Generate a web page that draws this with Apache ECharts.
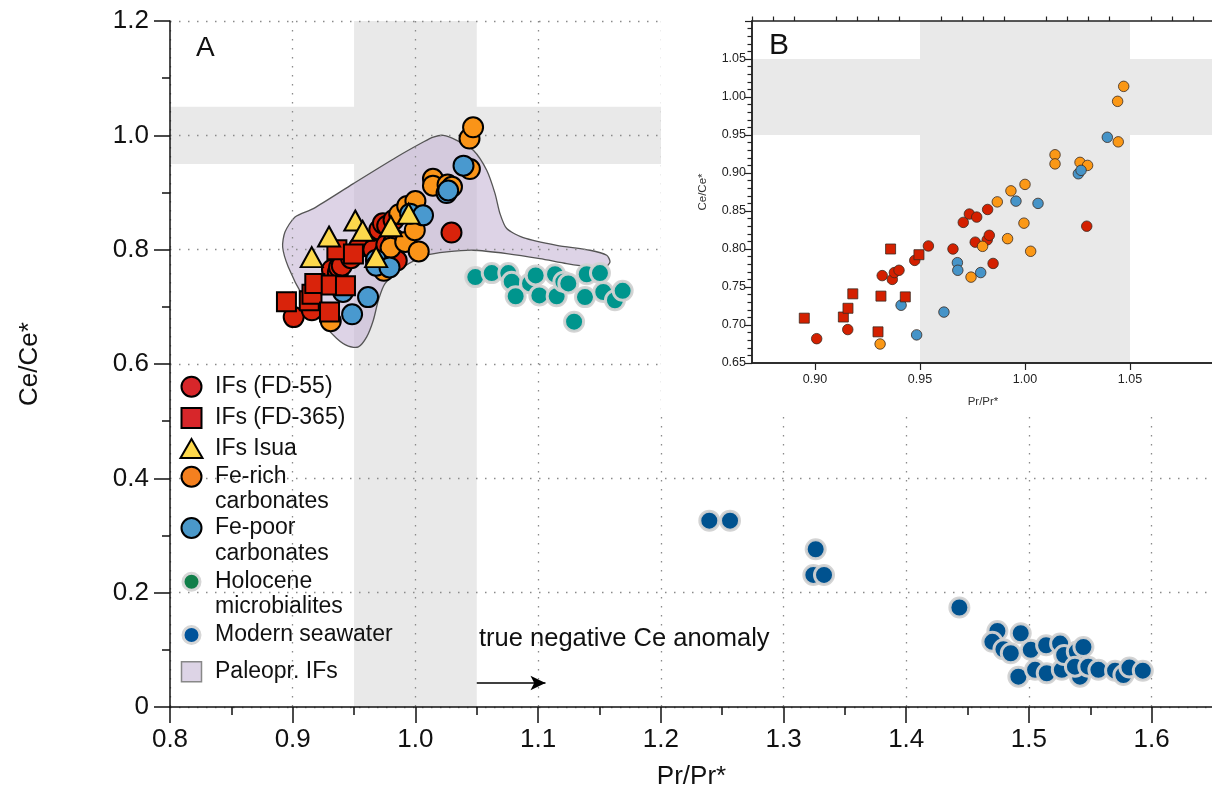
<!DOCTYPE html>
<html><head><meta charset="utf-8">
<script src="https://cdn.jsdelivr.net/npm/echarts@6/dist/echarts.min.js"></script>
<style>html,body{margin:0;padding:0;background:#fff}#c{width:1212px;height:791px}</style>
</head><body><div id="c"></div>
<script>
// ---------------- DATA ----------------
const fd55 = [[0.9008,0.682],[0.9156,0.694],[0.932,0.765],[0.9368,0.760],[0.9378,0.769],[0.940,0.772],[0.9475,0.785],[0.954,0.804],[0.9657,0.800],[0.9706,0.835],[0.9735,0.846],[0.977,0.842],[0.9763,0.809],[0.9822,0.852],[0.982,0.812],[0.983,0.818],[0.9848,0.781],[1.0294,0.830]];
const fd365 = [[0.8949,0.709],[0.9135,0.7105],[0.9157,0.722],[0.918,0.741],[0.930,0.691],[0.9314,0.738],[0.936,0.800],[0.943,0.737],[0.9495,0.7925]];
const isua = [[0.9155,0.787],[0.9296,0.823],[0.951,0.851],[0.957,0.833],[0.980,0.841],[0.9945,0.863],[0.968,0.787]];
const feRich = [[0.931,0.675],[0.9743,0.763],[0.9798,0.8035],[0.9917,0.8136],[0.9995,0.834],[1.0027,0.797],[0.9868,0.862],[0.9933,0.8765],[1.000,0.885],[1.0143,0.924],[1.0143,0.912],[1.0262,0.914],[1.0298,0.910],[1.0444,0.941],[1.0441,0.9943],[1.047,1.014]];
const fePoor = [[0.941,0.726],[0.9484,0.687],[0.9614,0.717],[0.9678,0.782],[0.968,0.772],[0.9789,0.769],[0.9957,0.863],[1.0062,0.860],[1.0254,0.899],[1.0267,0.9035],[1.0392,0.947]];
const holocene = [[1.0488,0.752],[1.0622,0.759],[1.0757,0.759],[1.0785,0.744],[1.0817,0.7185],[1.0934,0.741],[1.098,0.755],[1.101,0.720],[1.1138,0.757],[1.1151,0.7185],[1.1206,0.744],[1.1246,0.741],[1.1293,0.674],[1.1382,0.717],[1.1396,0.757],[1.1504,0.759],[1.1531,0.726],[1.1626,0.7115],[1.1689,0.728]];
const seawater = [[1.2395,0.326],[1.2564,0.326],[1.3262,0.276],[1.3243,0.231],[1.333,0.231],[1.4433,0.174],[1.4743,0.133],[1.4702,0.114],[1.4792,0.101],[1.4852,0.094],[1.4933,0.129],[1.4914,0.053],[1.5015,0.100],[1.505,0.065],[1.514,0.108],[1.5145,0.059],[1.5254,0.111],[1.5268,0.065],[1.5287,0.091],[1.539,0.097],[1.5444,0.105],[1.5416,0.053],[1.5375,0.0705],[1.5484,0.0705],[1.5566,0.065],[1.5702,0.0635],[1.577,0.056],[1.5819,0.069],[1.5928,0.0635]];
const paleoIFs = [[1.0146,0.997],[1.0227,1.0],[1.0337,0.9913],[1.0472,0.9738],[1.0581,0.9388],[1.0649,0.8981],[1.0689,0.8633],[1.0744,0.8369],[1.0879,0.8211],[1.1152,0.8077],[1.1423,0.799],[1.1559,0.7902],[1.1586,0.7785],[1.1545,0.7687],[1.1423,0.7698],[1.1233,0.7757],[1.1015,0.7844],[1.0744,0.7932],[1.0472,0.799],[1.0255,0.796],[1.0092,0.7902],[0.9901,0.7698],[0.9752,0.7407],[0.9698,0.7115],[0.9657,0.6766],[0.9603,0.6474],[0.9535,0.6299],[0.9453,0.6311],[0.9359,0.6446],[0.9222,0.6766],[0.9086,0.7173],[0.8964,0.7698],[0.8918,0.8047],[0.8937,0.8309],[0.9019,0.8572],[0.9168,0.8718],[0.9494,0.9155],[0.9848,0.9621],[1.0064,0.9883]];
const bandPr = [[0.95, 1.05]];   // Pr/Pr* reference band
const bandCe = [[0.95, 1.05]];   // Ce/Ce* reference band
const arrowLine = [[1.05, 0.042], [1.106, 0.042]];
const insetXLabels = [0.90, 0.95, 1.00, 1.05];
const insetXMinor = [0.87,0.88,0.89,0.91,0.92,0.93,0.94,0.96,0.97,0.98,0.99,1.01,1.02,1.03,1.04,1.06,1.07,1.08,1.09];
const seriesNames = ['IFs (FD-55)','IFs (FD-365)','IFs Isua','Fe-rich carbonates','Fe-poor carbonates','Holocene microbialites','Modern seawater','Paleopr. IFs'];
const legendLabels = ['IFs (FD-55)','IFs (FD-365)','IFs Isua','Fe-rich\ncarbonates','Fe-poor\ncarbonates','Holocene\nmicrobialites','Modern seawater','Paleopr. IFs'];
const annotationText = 'true negative Ce anomaly';

// ---------------- STYLE ----------------
const FONT = '"Liberation Sans", Arial, Helvetica, sans-serif';
const C = {red:'#d9230b', orange:'#fa9418', blue:'#4999cf', yellow:'#fdd84c', teal:'#00958d', navy:'#00528f'};
const CI = {red:'#d42000', orange:'#fb9816', blue:'#4694c8'};
const BAND = '#e9e9e9';
const chart = echarts.init(document.getElementById('c'), null, {renderer:'canvas'});

function bandX(params, api){
  const cs = params.coordSys;
  const p0 = api.coord([api.value(0), 0.7]);
  const p1 = api.coord([api.value(1), 0.7]);
  return {type:'rect', shape:{x:p0[0], y:cs.y, width:p1[0]-p0[0], height:cs.height}, style:{fill:BAND}};
}
function bandY(params, api){
  const cs = params.coordSys;
  const p0 = api.coord([1.0, api.value(0)]);
  const p1 = api.coord([1.0, api.value(1)]);
  return {type:'rect', shape:{x:cs.x, y:p1[1], width:cs.width, height:p0[1]-p1[1]}, style:{fill:BAND}};
}

const mainPt = (name, data, symbol, color, size, z) => ({
  name, type:'scatter', xAxisIndex:0, yAxisIndex:0, data, symbol, symbolSize:size, z,
  itemStyle:{color, borderColor:'#000', borderWidth:2, opacity:1}, silent:true
});
const haloPt = (name, data, color, z) => ({
  name, type:'scatter', xAxisIndex:0, yAxisIndex:0, data, symbol:'circle', symbolSize:19, z,
  itemStyle:{color, borderColor:'rgba(210,210,210,0.95)', borderWidth:3, opacity:1}, silent:true
});
const insetPt = (name, data, symbol, color, size) => ({
  name, type:'scatter', xAxisIndex:1, yAxisIndex:1, data, symbol, symbolSize:size, z:24,
  itemStyle:{color, borderColor:'#3a2a20', borderWidth:0.8, opacity:1}, silent:true
});

// legend built as graphics
const legendLayout = [
  {y:386.7, shape:'circle', fill:'#d7262a', stroke:'#000', lw:2},
  {y:418, shape:'square', fill:'#d7262a', stroke:'#000', lw:2},
  {y:449, shape:'triangle', fill:'#fdd84c', stroke:'#000', lw:2},
  {y:476.7, shape:'circle', fill:'#f4801f', stroke:'#000', lw:2},
  {y:528, shape:'circle', fill:'#4a98c9', stroke:'#000', lw:2},
  {y:581.7, shape:'circle', fill:'#117f4a', stroke:'#d6d6d6', lw:3},
  {y:635, shape:'circle', fill:'#00539a', stroke:'#d6d6d6', lw:3},
  {y:671.7, shape:'square', fill:'#ddd4e6', stroke:'#888', lw:1.5}
];
const legendGraphics = [];
legendLabels.forEach((lab, i) => {
  const L = legendLayout[i];
  const cx = 191.5, cy = L.y;
  let icon;
  if (L.shape === 'circle') {
    const r = L.lw === 3 ? 8.5 : 10;
    icon = {type:'circle', shape:{cx, cy, r}, style:{fill:L.fill, stroke:L.stroke, lineWidth:L.lw}, z:30};
  } else if (L.shape === 'square') {
    icon = {type:'rect', shape:{x:cx-10, y:cy-10, width:20, height:20}, style:{fill:L.fill, stroke:L.stroke, lineWidth:L.lw}, z:30};
  } else {
    icon = {type:'polygon', shape:{points:[[cx, cy-10],[cx+11, cy+9],[cx-11, cy+9]]}, style:{fill:L.fill, stroke:L.stroke, lineWidth:L.lw}, z:30};
  }
  legendGraphics.push(icon);
  legendGraphics.push({type:'text', x:215, y:cy-13, z:30,
    style:{text:lab, font:'23px ' + FONT, fill:'#111', lineHeight:25.5, verticalAlign:'top', align:'left'}});
});

const option = {
  animation:false,
  backgroundColor:'#fff',
  grid:[
    {left:170, top:21, right:-1, bottom:84, show:false, outerBoundsMode:'none', containLabel:false},
    {left:752, top:21, right:-2, bottom:428, show:true, z:22, borderColor:'#222', borderWidth:1.5, backgroundColor:'transparent', outerBoundsMode:'none', containLabel:false}
  ],
  xAxis:[
    {type:'value', gridIndex:0, min:0.8, max:1.65, interval:0.1, z:3,
     axisLine:{onZero:false, lineStyle:{color:'#111', width:1.5}},
     axisTick:{length:16, lineStyle:{color:'#111', width:1.5}},
     minorTick:{show:true, splitNumber:2, length:8, lineStyle:{color:'#111', width:1.5}},
     splitLine:{show:true, lineStyle:{color:'#8a8a8a', type:[1.5,7.5], width:1.3}},
     axisLabel:{fontSize:26, color:'#111', fontFamily:FONT, margin:20, showMaxLabel:false, formatter:v=>v.toFixed(1)},
     name:'Pr/Pr*', nameLocation:'middle', nameGap:57, nameTextStyle:{fontSize:26, color:'#111', fontFamily:FONT}},
    {type:'value', gridIndex:1, min:0.87, max:1.09, z:23,
     axisLine:{onZero:false, lineStyle:{color:'#222', width:1.5}},
     axisTick:{customValues:insetXLabels, length:7, lineStyle:{color:'#222', width:1.2}},
     splitLine:{show:false},
     axisLabel:{customValues:insetXLabels, fontSize:12.5, color:'#222', fontFamily:FONT, margin:10, formatter:v=>v.toFixed(2)},
     name:'Pr/Pr*', nameLocation:'middle', nameGap:33, nameTextStyle:{fontSize:11.5, color:'#333', fontFamily:FONT}},
    {type:'value', gridIndex:1, min:0.87, max:1.09, z:23,
     axisLine:{show:false},
     axisTick:{customValues:insetXMinor, length:4.5, lineStyle:{color:'#222', width:1.2}},
     splitLine:{show:false}, axisLabel:{show:false}}
  ],
  yAxis:[
    {type:'value', gridIndex:0, min:0, max:1.2, interval:0.2, z:3,
     axisLine:{onZero:false, lineStyle:{color:'#111', width:1.5}},
     axisTick:{length:16, lineStyle:{color:'#111', width:1.5}},
     minorTick:{show:true, splitNumber:2, length:8, lineStyle:{color:'#111', width:1.5}},
     splitLine:{show:true, lineStyle:{color:'#8a8a8a', type:[1.5,7.5], width:1.3}},
     axisLabel:{fontSize:26, color:'#111', fontFamily:FONT, margin:21, formatter:v=>v===0?'0':v.toFixed(1)},
     name:'Ce/Ce*', nameLocation:'middle', nameGap:127, nameRotate:90, nameTextStyle:{fontSize:26, color:'#111', fontFamily:FONT}},
    {type:'value', gridIndex:1, min:0.65, max:1.10, interval:0.05, z:23,
     axisLine:{onZero:false, lineStyle:{color:'#222', width:1.5}},
     axisTick:{length:7, lineStyle:{color:'#222', width:1.2}},
     minorTick:{show:true, splitNumber:5, length:4.5, lineStyle:{color:'#222', width:1.2}},
     splitLine:{show:false},
     axisLabel:{fontSize:12.5, color:'#222', fontFamily:FONT, margin:6, showMaxLabel:false, formatter:v=>v.toFixed(2)},
     name:'Ce/Ce*', nameLocation:'middle', nameGap:43, nameRotate:90, nameTextStyle:{fontSize:11.5, color:'#333', fontFamily:FONT}}
  ],
  graphic:[
    {type:'rect', shape:{x:661, y:0, width:560, height:416}, style:{fill:'#fff'}, z:20, silent:true},
    {type:'text', x:196, y:34, z:25, style:{text:'A', font:'28px ' + FONT, fill:'#111'}},
    {type:'text', x:769, y:31, z:25, style:{text:'B', font:'30px ' + FONT, fill:'#111'}},
    {type:'text', x:479, y:626, z:25, style:{text:annotationText, font:'25.5px ' + FONT, fill:'#111'}}
  ].concat(legendGraphics),
  series:[
    {type:'custom', name:'bandPr', xAxisIndex:0, yAxisIndex:0, z:1, silent:true, data:bandPr, renderItem:bandX},
    {type:'custom', name:'bandCe', xAxisIndex:0, yAxisIndex:0, z:1, silent:true, data:bandCe, renderItem:bandY},
    {type:'custom', name:seriesNames[7], xAxisIndex:0, yAxisIndex:0, z:2, silent:true, data:paleoIFs,
     renderItem:(params, api) => {
       if (params.dataIndex !== 0) return;
       const pts = paleoIFs.map(p => api.coord(p));
       return {type:'polygon', shape:{points:pts, smooth:0.25},
               style:{fill:'rgba(196,180,212,0.58)', stroke:'#555', lineWidth:1.3}};
     }},
    haloPt(seriesNames[5], holocene, C.teal, 5),
    haloPt(seriesNames[6], seawater, C.navy, 5),
    mainPt(seriesNames[0], fd55, 'circle', C.red, 20, 6),
    mainPt(seriesNames[3], feRich, 'circle', C.orange, 20, 7),
    mainPt(seriesNames[4], fePoor, 'circle', C.blue, 20, 8),
    mainPt(seriesNames[1], fd365, 'rect', C.red, 19, 9),
    mainPt(seriesNames[2], isua, 'triangle', C.yellow, [22,20], 10),
    {type:'scatter', name:'arrow', xAxisIndex:0, yAxisIndex:0, data:[], z:10, silent:true,
     markLine:{silent:true, symbol:['none','arrow'], symbolSize:[11,15],
       lineStyle:{color:'#000', width:1.5, type:'solid'}, label:{show:false},
       data:[[{coord:arrowLine[0]},{coord:arrowLine[1]}]]}},
    {type:'custom', name:'insetBandPr', xAxisIndex:1, yAxisIndex:1, z:21, silent:true, data:bandPr, renderItem:bandX},
    {type:'custom', name:'insetBandCe', xAxisIndex:1, yAxisIndex:1, z:21, silent:true, data:bandCe, renderItem:bandY},
    insetPt(seriesNames[0], fd55, 'circle', CI.red, 10.5),
    insetPt(seriesNames[3], feRich, 'circle', CI.orange, 10.5),
    insetPt(seriesNames[4], fePoor, 'circle', CI.blue, 10.5),
    insetPt(seriesNames[1], fd365, 'rect', CI.red, 10)
  ]
};
chart.setOption(option);
</script></body></html>
